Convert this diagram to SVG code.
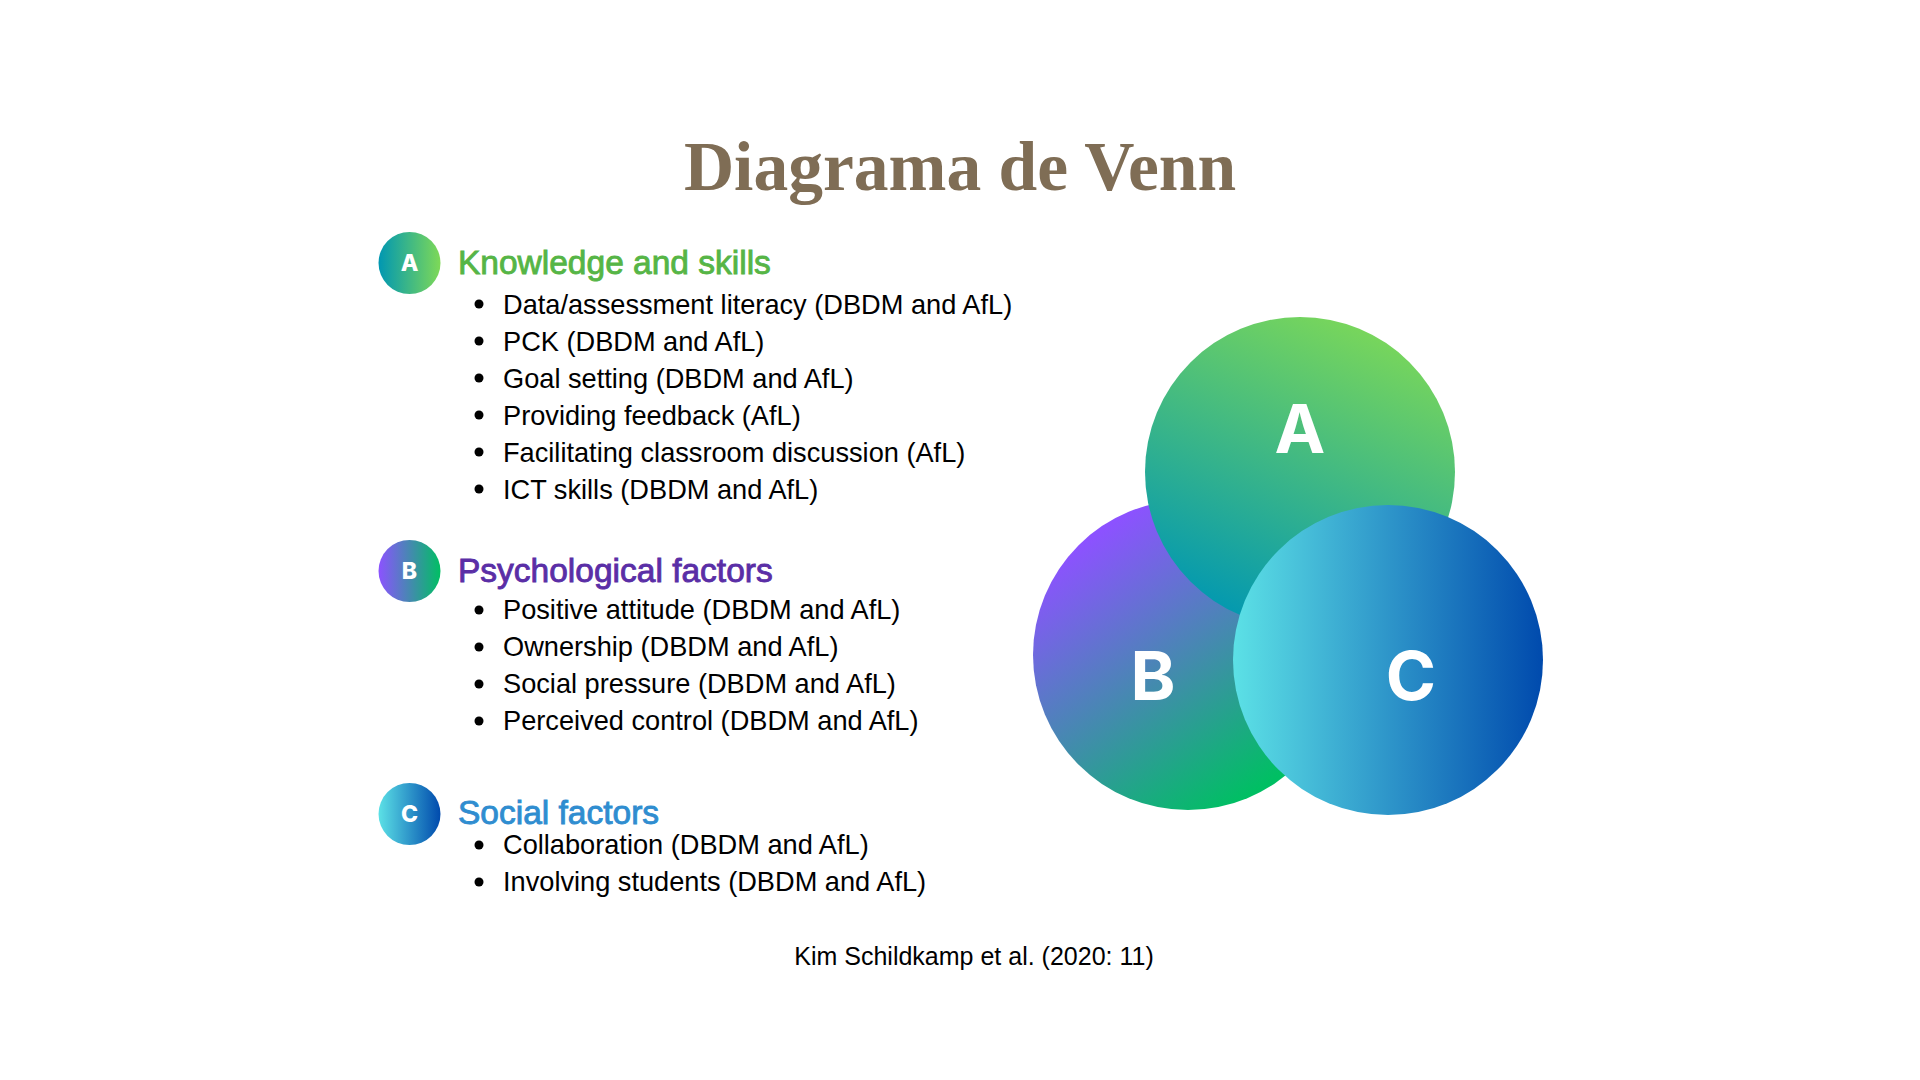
<svg xmlns="http://www.w3.org/2000/svg" width="1920" height="1080" viewBox="0 0 1920 1080">
<defs>
<linearGradient id="gA" x1="0.3" y1="1" x2="0.75" y2="0"><stop offset="0" stop-color="#0097b2"/><stop offset="1" stop-color="#7ed957"/></linearGradient>
<linearGradient id="gB" x1="0.15" y1="0.15" x2="0.7" y2="0.95"><stop offset="0" stop-color="#8c52ff"/><stop offset="1" stop-color="#00bf63"/></linearGradient>
<linearGradient id="gC" x1="0" y1="0" x2="1" y2="0"><stop offset="0" stop-color="#5ce1e6"/><stop offset="1" stop-color="#004aad"/></linearGradient>
<linearGradient id="bA" x1="0" y1="0" x2="1" y2="0"><stop offset="0" stop-color="#0097b2"/><stop offset="1" stop-color="#7ed957"/></linearGradient>
<linearGradient id="bB" x1="0" y1="0" x2="1" y2="0"><stop offset="0" stop-color="#8c52ff"/><stop offset="1" stop-color="#00bf63"/></linearGradient>
<linearGradient id="bC" x1="0" y1="0" x2="1" y2="0"><stop offset="0" stop-color="#5ce1e6"/><stop offset="1" stop-color="#004aad"/></linearGradient>
</defs>
<style>
.title{font-family:"Liberation Serif","Times New Roman",serif;font-weight:bold;font-size:69.5px;fill:#7f6d55}
.head{font-family:"Liberation Sans",Arial,sans-serif;font-size:33.5px;stroke-width:0.9px}
.item{font-family:"Liberation Sans",Arial,sans-serif;font-size:27.2px;fill:#000}
.badge{font-family:Inter,"Open Sans",sans-serif;font-weight:800;font-size:23px;fill:#fff;text-anchor:middle}
.big{font-family:Inter,"Open Sans",sans-serif;font-weight:bold;font-size:68px;fill:#fff;text-anchor:middle}
.foot{font-family:"Liberation Sans",Arial,sans-serif;font-size:25px;fill:#000;text-anchor:middle}
.dot{fill:#000}
</style>
<rect width="1920" height="1080" fill="#fff"/>
<text class="title" x="960" y="190" text-anchor="middle">Diagrama de Venn</text>

<g id="listA">
<circle cx="409.5" cy="263" r="31" fill="url(#bA)"/>
<text class="badge" x="409.5" y="271">A</text>
<text class="head" x="458" y="274" fill="#56b546" stroke="#56b546">Knowledge and skills</text>
<g class="dot"><circle cx="479" cy="304" r="4.5"/><circle cx="479" cy="341" r="4.5"/><circle cx="479" cy="378" r="4.5"/><circle cx="479" cy="415" r="4.5"/><circle cx="479" cy="452" r="4.5"/><circle cx="479" cy="489" r="4.5"/></g>
<text class="item" x="503" y="313.5">Data/assessment literacy (DBDM and AfL)</text>
<text class="item" x="503" y="350.5">PCK (DBDM and AfL)</text>
<text class="item" x="503" y="387.5">Goal setting (DBDM and AfL)</text>
<text class="item" x="503" y="424.5">Providing feedback (AfL)</text>
<text class="item" x="503" y="461.5">Facilitating classroom discussion (AfL)</text>
<text class="item" x="503" y="498.5">ICT skills (DBDM and AfL)</text>
</g>

<g id="listB">
<circle cx="409.5" cy="571" r="31" fill="url(#bB)"/>
<text class="badge" x="409.5" y="579">B</text>
<text class="head" x="458" y="582" fill="#5a2ea6" stroke="#5a2ea6">Psychological factors</text>
<g class="dot"><circle cx="479" cy="610" r="4.5"/><circle cx="479" cy="647" r="4.5"/><circle cx="479" cy="684" r="4.5"/><circle cx="479" cy="721" r="4.5"/></g>
<text class="item" x="503" y="619">Positive attitude (DBDM and AfL)</text>
<text class="item" x="503" y="656">Ownership (DBDM and AfL)</text>
<text class="item" x="503" y="693">Social pressure (DBDM and AfL)</text>
<text class="item" x="503" y="730">Perceived control (DBDM and AfL)</text>
</g>

<g id="listC">
<circle cx="409.5" cy="814" r="31" fill="url(#bC)"/>
<text class="badge" x="409.5" y="822">C</text>
<text class="head" x="458" y="824" fill="#2f8dd0" stroke="#2f8dd0">Social factors</text>
<g class="dot"><circle cx="479" cy="845" r="4.5"/><circle cx="479" cy="882" r="4.5"/></g>
<text class="item" x="503" y="854">Collaboration (DBDM and AfL)</text>
<text class="item" x="503" y="891">Involving students (DBDM and AfL)</text>
</g>

<g id="circleB">
<circle cx="1188" cy="655" r="155" fill="url(#gB)"/>
<text class="big" x="1153" y="700">B</text>
</g>
<g id="circleA">
<circle cx="1300" cy="472" r="155" fill="url(#gA)"/>
<text class="big" x="1300" y="453">A</text>
</g>
<g id="circleC">
<circle cx="1388" cy="660" r="155" fill="url(#gC)"/>
<text class="big" x="1411" y="700">C</text>
</g>

<text class="foot" x="974" y="965">Kim Schildkamp et al. (2020: 11)</text>
</svg>
